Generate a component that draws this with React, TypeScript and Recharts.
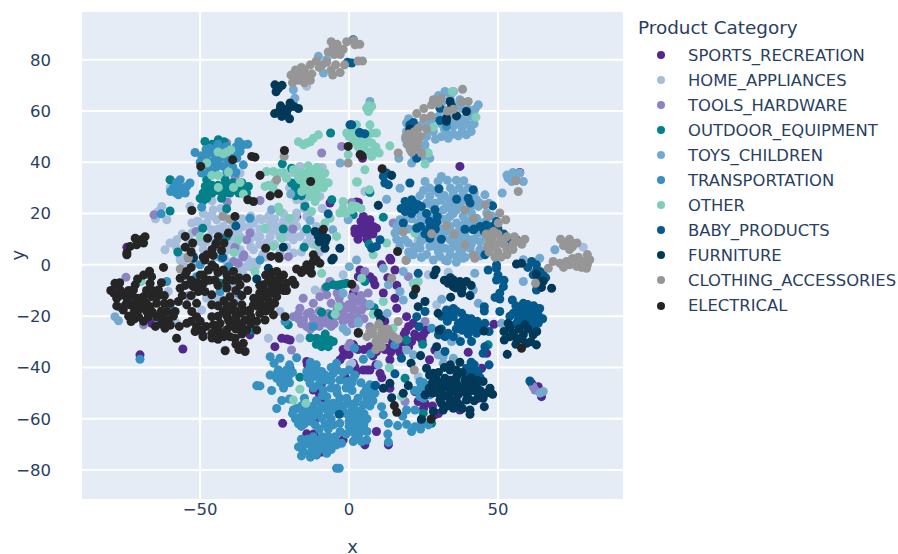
import { ScatterChart, Scatter, XAxis, YAxis, ZAxis, CartesianGrid } from 'recharts'

type Pt = [number, number]

const sports: Pt[] = [
  [5.3, 16.3], [7, 17.6], [3.7, 14.3], [5.9, 13.7], [8.1, 15], [3.1, 11.7], [5.9, 11.7], [2, 12.4], [9.2, 14.3], [4.8, 18.9], [6.5, 15], [4.5, 12.5], [7.5, 13],
  [37.2, 38.4], [3.1, 24.3], [57.3, 36], [13.7, 2.6], [4.5, 41.6], [4.8, -2.6], [8.1, -5.9], [7, -4.6], [14, 1.9], [10.9, 0], [15.4, -2], [11.5, -11], [15.4, -13],
  [16, -16.9], [19.3, -20.2], [21.5, -22.8], [23.2, -28], [26, -25.4], [21, -29.9], [16.5, -32.5], [12.6, -32.5], [9.2, -33.8], [7, -31.9], [13.7, -37], [4.8, -41],
  [7, -41], [10.4, -42.3], [1.4, -31.2], [1.4, -38.4], [40, -34.1], [22.1, -49.4], [23.2, -53.3], [25.5, -54], [13.7, -48.1], [9.2, -65], [13.2, -70.2], [5.3, -70.2],
  [37.2, -56.6], [43.4, -52], [44.5, -40.3], [48.6, -23.2], [61.3, -46.2], [63.5, -47.5], [64.6, -51.4], [24.3, -60.5], [28.8, -58.5], [28.8, -33.2], [46.2, -34.5],
  [3.7, -2], [8.7, -7.8], [1.4, -11], [-20.9, -28.9], [-22.6, -28.6], [-19.8, -29.3], [-24.9, -31.9], [-14.2, -37.7], [-1.9, -35.4], [1.4, -39], [1.4, -31.2],
  [-55.8, -32.8], [-70.2, -35.1], [-22.3, -61.8], [-14.2, -65.9], [-10.9, -74.1], [-11.4, -67], [-9.2, -46.2], [-12, -48.8], [-9.8, -51.4], [-1.4, -43.6], [2.5, -41.6],
  [-2, -68.3], [-10.9, -59.8], [3.1, -4.6], [-79.1, -9.8], [-66.3, -22.8], [-49.1, -27.3], [-29.3, -11.1], [-33.3, -27.3], [-6.4, 24.1], [2.5, 24.5], [-17.6, 18.9],
  [-74.6, 6.9], [2, 13.7], [18.5, -27], [20, -32], [24.5, -29.5], [14.5, -30], [8, -35.5], [12, -22], [16, -8], [13, -5],
  [15, -30], [18, -30], [22, -27], [25, -27], [20, -24], [10, -32], [6, -41], [9, -39], [12, -33], [14, -34], [17, -34], [19, -26], [3, 10], [6, 10], [8, 12], [4, 17], [2, 14],
  [-3, -37], [-2, -33], [0, -35], [27, -37], [5, -33], [3, -33], [-14, -39], [-10, -50], [-8, -53], [-12, -66], [-9, -73], [2, -40], [11, -44], [12, -28], [25, -56], [28, -55], [30, -58],
]

const homeAppliances: Pt[] = [
  [-62.9, 22.8], [-64, 20.8], [-61.2, 17.6], [-65, 18], [-52.8, 16.3], [-50.6, 16.9], [-47.8, 16.3], [-45.6, 21.5], [-44.4, 17.6], [-47.2, 18.9], [-42.2, 15], [-38.8, 16.3],
  [-35.5, 15], [-32.1, 16.3], [-29.3, 17.6], [-26.5, 16.3], [-24.3, 15], [-20.9, 11], [-17.6, 15], [-18.7, 9.8], [-23.2, 11], [-26.5, 11], [-29.9, 11], [-33.3, 9.8], [-36.6, 11],
  [-40, 9.8], [-43.3, 12.4], [-46.1, 13.7], [-50, 13.7], [-52.8, 12.4], [-14.2, 18.9], [-17.6, 20.2], [-14.2, 8.5], [-16.5, 11], [-60.1, 8.5], [-61.8, 5.9], [-57.8, 9.8],
  [-56.7, 3.3], [-36.6, 5.9], [-32.1, 5.9], [-27.7, 8.5], [-40.5, 5.9], [-18.7, 4.6], [-23.2, 4.6], [-14.2, 69.6], [-12, 35.1], [-16.5, 38.4], [-14.2, 26.7], [-17.6, 25.4],
  [-9.8, 26.7], [-60.1, 30], [-36.6, 35.8], [-53.4, 22.8], [-56.7, 1.9], [-55.6, 0], [-46.1, -5.9], [-43.3, -11.7], [-47.8, -13], [-49.5, -17.6], [-36.6, -1.3], [-33.3, -0.7],
  [-35.5, -3.9], [-60.7, -10.4], [-57.9, -22.8], [-27.1, -28.6], [-23.2, -18.2], [-16.5, -28.6], [-11.4, -9.8], [-9.8, -11], [-2, -3.9], [0.3, -39], [-41.6, -33.2], [0.9, -38.4],
  [4.2, -13.7], [26.6, -3.9], [33.3, -2.9], [23.2, -43.6], [29.4, -15.6], [42.2, -39], [23.2, 9.5], [15.4, 16.3], [78.6, 6.9], [31, 25.1], [5.3, 28.6], [-42, 20], [-38, 12],
  [-44, 7], [-30, 14], [-21, 14], [-10, 5], [-34, 2], [-28, 3], [-48, 9], [-53, 7], [-41, 1],
  [-56, 12], [-49, 20], [-46, 25], [-43, 22], [-46, 19], [-44, 14], [-41, 18], [-37, 14], [-33, 13], [-31, 11], [-28, 14], [-26, 14], [-22, 17], [-19, 12], [-15, 13], [-13, 11],
  [-18, 18], [-15, 22], [-47, 11], [-50, 9], [-54, 10], [-38, 8], [-36, 3], [-33, 7], [-30, 8], [-25, 8], [-21, 7], [-16, 5], [-12, 8], [-45, 3], [-52, 1], [-58, 7], [-51, 17],
  [-39, -8], [-44, -14], [-37, -13], [-31, 0], [-35, -1], [-29, 4], [-42, 3], [-17, 34], [-11, 30], [-9, 38], [-19, 36], [-15, 24], [-9, 22], [-20, 30],
  [-36, 18], [-33, 19], [-25, 18], [-22, 20], [-30, 18], [-40, 14], [-33, 16], [-24, 13], [-27, 19], [-20, 16], [-11, 15], [-49, 6], [-32, 1], [-41, 7],
]

const toolsHardware: Pt[] = [
  [-18.7, -20.2], [-15.3, -21.5], [-14.2, -24.1], [-12, -20.8], [-9.8, -21.5], [-7.5, -22.8], [-5.3, -20.8], [-2, -18.2], [-0.3, -15.6], [2, -17.6], [0.3, -20.2], [3.1, -14.3],
  [-16.5, -16.9], [-15.4, -13], [-9.8, -12.4], [-7.5, -11.7], [-6.4, -6.5], [-3.3, -13], [-19.3, -33.2], [-74.9, -4.8], [-69, -23.4], [-54, -12.1], [-35.5, 3.2], [-38.8, 1.3],
  [-37.2, 0.6], [-20.4, 3.2], [-6.4, -44.9], [0.3, -30.6], [-0.3, -31.9], [0.9, -15], [1.4, -17.6], [4.2, -17.6], [0.9, -20.8], [3.1, -20.8], [6.4, -11], [2, -9.1], [5.3, -2.6],
  [25.5, -22.1], [18.8, -53.3], [19.9, -4.6], [62.4, -48.8], [61.8, -47.5], [7, -24.1], [-41.1, 47.5], [-9.2, 43.6], [-2.5, 46.2], [-65.5, 19.5], [-40.9, 24.5], [-33.3, 12.4],
  [-34.4, 9.8], [-51.4, 13], [-18.9, 14], [-29.9, 25.1], [-38.3, 34.5], [-35.3, 3.9], [-38.3, 6.9], [-45, 36.4], [16.9, 9.1], [14.8, 16.3], [0.9, 24.3], [3.7, 47.5],
  [-13, -18.5], [-10, -18], [-7, -19], [-4, -17], [-1, -21], [-12.5, -23.5], [-17, -19], [-6, -15], [-3, -15.5], [1, -12.5],
  [-17, -21], [-14, -19], [-11, -22.5], [-8, -21], [-5, -23], [-3, -20], [-1, -17], [1, -15], [3, -18], [5, -15], [-16, -23], [-10, -24], [-6, -24], [-2, -22], [1, -23], [-4, -11],
  [-8, -9], [-12, -15], [4, -12], [6, -16], [2, -22], [5, -21], [-13, -25],
]

const outdoorEquipment: Pt[] = [
  [-47.8, 33.2], [-48.3, 30.6], [-47.2, 28.6], [-50, 26], [-47.8, 26], [-41.6, 33.2], [-42.2, 30.6], [-40.5, 30.6], [-38.3, 29.3], [-33.8, 30.6], [-34.4, 28], [-42.8, 26], [-41.1, 21.9],
  [-43.9, 48.8], [-43.9, 46.2], [-48.4, 48.1], [-60.1, 33.2], [-60.1, 21], [-17, 28.6], [-19.3, 31.9], [-16.5, 32], [-22.4, 39.4], [-19.3, 37.7], [-5.8, 25.4], [-6.2, 51.4], [-14.8, 22.8],
  [-18.7, 62.4], [-22.1, 14], [-14.2, 14], [-49.1, 14.3], [-57.5, 5], [-15.1, 6.9], [-41.1, 11], [11.5, 18.6], [7, 28.2], [6.7, 8.1], [1.4, 19.5], [-76.9, -16.5], [-5.3, -7.8], [-3.1, -7.8],
  [-0.8, -7.2], [-7.5, -8.5], [-9.2, -18.5], [-5.8, -19.5], [-13.1, -28.4], [-10.9, -28.6], [-8.6, -30.6], [-6.4, -29.3], [-5.3, -29.9], [-7, -31.9], [-9.2, -31.9], [-20.4, -23.4],
  [-16.5, -43.8], [-19.8, -40.3], [-43.3, -7.2], [-32.7, -25.4], [5.3, -6.5], [19.3, -29.3], [24.7, -31], [18.8, -44.2], [24.9, -57.9], [27.7, -61.8], [8.4, -16.7], [46.7, -31.2],
  [-46, 31], [-49, 28], [-44, 29], [-39, 32], [-36, 30], [-47, 31], [-46, 28], [-49, 25], [-44, 31], [-42, 28], [-40, 28], [-37, 31], [-35, 29], [-37, 28], [-18, 30], [-18, 27], [-16, 27],
  [-46, 47], [-42, 48], [-36, 32], [-9, -29], [-8, -27], [-11, -31], [-4, -8], [-2, -7.5],
]

const toysChildren: Pt[] = [
  [19.3, 55.3], [24.3, 54.6], [28.3, 52], [31, 50], [33.3, 49.4], [36.7, 50.3], [39.4, 50.7], [37.8, 54], [40, 54.6], [35, 54], [36.1, 56], [31.6, 60.5], [29.4, 63.7], [32.2, 67.6], [35, 67.6],
  [30, 57.9], [37.2, 64.4], [40, 60.5], [43.4, 62.4], [42.3, 60.7], [33.9, 60.5], [27.1, 55.3], [19.3, 52], [21.5, 54.6], [25.5, 46.8], [23.2, 44.9], [27.1, 41.6], [21, 39.7], [16.7, 41.6],
  [55.1, 34.5], [53.4, 33.8], [56.2, 35.1], [58.5, 32.5], [57.3, 35.8], [54.6, 32.5], [51.4, 28], [33.9, 18.9], [36.1, 21.5], [38.3, 18.9], [31.6, 21.5], [30.5, 17.6], [33.9, 15], [36.1, 16.3],
  [38.9, 16.3], [41.1, 20.2], [43.4, 22.8], [45.6, 27.3], [42.8, 25.4], [38.3, 28], [38.5, 32.8], [33.9, 25.4], [31, 34.5], [29.9, 32.5], [25.5, 32.5], [23.8, 26.9], [27.1, 26.7], [31, 25.4],
  [27.7, 23.4], [32.7, 22.8], [37.2, 23.4], [17.1, 29.9], [12.6, 25.6], [31.6, 11.1], [33.9, 9.8], [36.1, 11], [38.3, 11], [40.6, 9.8], [43.4, 12.4], [44.5, 16.3], [42.8, 18.2], [28.8, 7.2],
  [32.2, 6.5], [36.1, 7.2], [40.6, 6.5], [28.8, 15], [25.5, 17.6], [23.2, 16.3], [19.3, 18.2], [17.1, 17.6], [15.4, 12.4], [18.7, 9.8], [23.8, 6.5], [19.9, 8.5], [27.1, 7.2], [30.5, 3.3],
  [33.9, 3.9], [37.2, 4.6], [24.3, 3], [19.3, 2], [21.5, 4.6], [43.9, 5.9], [58.5, 2], [64, 2.6], [69.1, 5.9], [46.2, 20.2], [58.5, -6.5], [42.2, -3.3], [31.6, -35.8], [29.9, -35.1], [31.6, -38.4],
  [35, -36.4], [36.1, -28.6], [34.4, -29.9], [51.2, -22.8], [41.7, -9.8], [43.4, -15], [31.1, -13.4], [65.2, -49.4], [64.1, -50], [2.5, 1.9], [28.3, 1.9], [32.2, 1.9], [36.1, 3.2], [38.3, 2.6],
  [24.3, 2.9], [21.5, 3.9], [11.5, -1.3], [18.2, -2.6], [13.2, -7.8], [17.1, -10.4], [18.2, -13.7], [12.8, -18.9], [7, -15.4], [3.1, -22.8], [19.3, -33.2], [21.6, -35.1], [9.8, -39],
  [-78.6, -20.2], [-77.4, -21.8], [-2, -24.7], [-0.8, -26], [-2, -11.1], [3.1, -22.1], [0.1, -0.7], [-18.2, 65], [-18.7, 68.3], [-7.5, 80], [-8.6, 74.8], [-10.3, 81.3], [-3, 39.7],
  [-19.6, 27.6], [-26, 21.5], [-0.3, 17.6], [-13.1, 17.3], [-5.5, 13.7], [7, 63.7], [35, 20], [34, 13], [31, 14], [28, 19], [40, 14], [36, 26], [35, 8], [38, 6], [30, 9], [41, 23], [34, 30],
  [26, 20], [27, 13], [29, 12], [32, 13], [37, 13.5], [39, 11], [42, 10], [44, 9], [46, 11], [33, 18], [35, 23], [38, 25], [40, 17], [42, 15], [29, 24], [32, 27], [35, 28], [37, 30], [44, 24],
  [40, 30], [28, 10], [31, 7], [34, 6], [37, 9], [41, 8], [44, 3.5], [33, 1.5], [25, 10], [22, 7], [20, 5], [17, 7], [16, 15], [21, 18], [23, 12], [20, 14], [18, 13], [46, 17], [48, 19], [25, 29],
  [26, 24], [24, 19], [30, 5], [26, 4], [39, 3], [22, 52], [24, 50], [26, 50], [29, 49], [32, 53], [33, 51], [35, 51], [38, 52], [41, 52], [42, 55], [38, 57], [35, 57], [41, 58], [39, 56], [31, 55],
  [28, 57], [33, 58], [31, 63], [34, 66], [30, 66], [38, 61], [23, 47], [25, 42], [20, 57], [22, 42], [26, 44], [19, 49], [36, 62], [34, 64], [56, 33], [55, 36], [53, 35],
  [24, 22], [30, 28], [33, 33], [36, 33], [42, 28], [47, 24], [22, 14], [16, 10], [24, 9], [46, 14], [36, 1], [29, 29], [27, 30], [34, 22], [38, 14], [31, 18],
]

const transportation: Pt[] = [
  [-22.1, -43], [-23.7, -41], [-20.4, -43.6], [-24.3, -44.2], [-22.1, -45.5], [-26.5, -43], [-29.9, -47.2], [-31, -47.1], [-26, -49], [-22.6, -52.9], [-20, -52.3], [-24.3, -56], [-23.2, -36.4],
  [-26.5, -35.8], [-17.6, -36.2], [-25.2, -38.4], [-13.1, -39.7], [-10.9, -41], [-12, -43.6], [-14.2, -41.6], [-9.2, -41.6], [-13.1, -46.2], [-10.3, -46.8], [-8.6, -48.8], [-4.2, -38.4],
  [-5.3, -42.3], [-3.1, -44.9], [-0.8, -45.5], [2, -43], [-4.2, -48.1], [-17.6, -56], [-15.4, -57.2], [-13.1, -56], [-18.7, -56.6], [-17, -59.8], [-14.2, -59.8], [-11.4, -57.9], [-11.4, -62.4],
  [-9.2, -59.8], [-7, -58.5], [-5.3, -54], [-3.1, -52], [-0.8, -52], [-7.5, -51.4], [-5.3, -56.6], [-2, -57.2], [0.3, -59.8], [2, -54], [3.1, -57.2], [2.5, -62.4], [3.1, -66.3], [-3.1, -61.8],
  [-5.3, -62.4], [-15.4, -70.2], [-13.1, -70.2], [-15.4, -72.8], [-13.1, -73.5], [-10.9, -68.9], [-9.2, -70.9], [-7, -67], [-4.7, -67], [-7.5, -73.5], [-4.2, -70.2], [-2.5, -69.6], [-4.2, -79.3],
  [-3.3, -79.3], [-70.2, -36.8], [2.5, -61.1], [4.8, -63.1], [3.1, -66.3], [1.4, -58.5], [5.9, -68.3], [4.2, -68.9], [1.4, -68.9], [3.7, -57.2], [7, -50.7], [5.9, -48.1], [8.7, -50], [7, -46.8],
  [4.8, -54.6], [1.4, -44.2], [10.9, -55.3], [11.5, -58.5], [13.2, -61.8], [16.3, -62.7], [19.3, -62.2], [22.1, -63.1], [24.3, -61.8], [26.6, -62.4], [19.3, -56.6], [22.1, -56.6], [13.2, -69.2],
  [23.8, -45.5], [25.5, -48.1], [27.1, -50.7], [23.8, -51.4], [15.4, -31.2], [7.3, -34.7], [1.8, -32.5], [4.8, -36.8], [27.7, -24.7], [-45.6, 43.6], [-47.8, 41], [-43.9, 42.3], [-42.2, 44.9],
  [-41.1, 41.6], [-44.4, 38.4], [-49.5, 35.8], [-47.2, 38.4], [-42.2, 38.4], [-51.7, 43.8], [-49.5, 42.5], [-46.7, 45.5], [-35.5, 46.8], [-36.6, 44.2], [-37.7, 41.6], [-35.5, 39], [-41.1, 46.2],
  [-57.9, 30.6], [-56.7, 33.2], [-59, 30], [-57.3, 27.3], [-54.5, 30.6], [-53.4, 31.9], [-59.9, 28.6], [-63.1, 19.9], [-33.3, 18.2], [-49.5, 22.5], [-61.2, -6.5], [-51.2, -4.6], [-50, 0],
  [-37.2, -11], [-43.3, -10.4], [-67.9, -16.3], [-72.4, -18.9], [-64, -22.8], [-60.1, -16.3], [-42.8, 2.6], [-29.9, 1.9], [-40.5, -0.7], [-21.5, -22.1], [-12, -24.1], [32.7, 54],
  [-45, 41], [-39, 43], [-46, 36], [-44, 45], [-16, -59], [-12, -59], [-15, -54], [-8, -56], [-2, -55], [1, -56], [0, -63], [4, -60], [-12, -71.5], [-10, -72], [-6, -70], [6, -65], [-22, -48], [-10, -44],
  [-24, -42], [-21, -41], [-19, -42], [-23, -46], [-20, -46], [-14, -44], [-12, -41], [-10, -44], [-11, -39], [-13, -38], [-8, -45], [-12, -48], [-6, -40], [-4, -41], [-2, -42], [0, -41], [-6, -45],
  [-1, -48], [1, -46], [4, -46], [-19, -58], [-16, -55], [-14, -57], [-12, -55], [-10, -57], [-17, -62], [-15, -62], [-13, -61], [-9, -55], [-7, -54], [-6, -60], [-8, -62], [-3, -55], [-1, -58], [2, -59],
  [0, -61], [1, -65], [3, -64], [5, -62], [4, -65], [2, -68], [6, -60], [5, -58], [7, -55], [8, -53], [6, -52], [3, -52], [5, -50], [9, -47], [0, -54], [-3, -58], [-4, -50], [-9, -51],
  [-17, -71], [-16, -68], [-14, -68], [-12, -67], [-11, -71], [-13, -75], [-11, -74], [-8, -69], [-6, -72], [-5, -68], [-9, -67], [-7, -71], [-16, -74.5], [13, -66], [18, -59], [21, -65], [24, -64],
  [25, -46], [27, -47], [24, -48], [25, -52], [22, -49], [-48, 43], [-46, 40], [-44, 40], [-42, 42], [-40, 40], [-47, 36], [-45, 35.5], [-41, 36], [-44, 47], [-48, 45], [-38, 46], [-37, 48], [-34, 47],
  [-39, 38], [-38, 36], [-50, 40], [-58, 32], [-56, 30], [-55, 28], [-58, 28],
  [-20, -39], [-8, -43], [-15, -52], [-7, -64], [-3, -65], [-1, -66], [8, -50], [1, -49], [-6, -48], [-11, -53], [-18, -60], [-16, -63], [-10, -64],
]

const other: Pt[] = [
  [7, 61.1], [5.9, 61.1], [7.6, 61.8], [6.5, 59.8], [7, 54.6], [7.6, 51.4], [5.3, 48.8], [7.6, 47.5], [2.5, 50.7], [1.4, 48.1], [9.2, 51.4], [13.7, 46.4], [10.1, 43.6], [7.6, 42.3], [5.3, 37.1],
  [2.8, 32.3], [6.8, 29.3], [0.9, 51.4], [3.1, 47.5], [25.5, 39.3], [28.3, 53.7], [34.7, 67.6], [42.6, 57.6], [26.6, 43.6], [22.1, 12.4], [12.6, 8.5], [8.1, 3.9], [-14.2, 47.5], [-12, 49.4],
  [-10.3, 50.7], [-15.3, 46.8], [-0.8, 51.4], [2.5, 54.6], [3.1, 48.8], [-0.3, 43], [2.5, 32.3], [-16.5, 33.2], [-14.2, 30.6], [-12, 33.2], [-14.2, 35.8], [-13.1, 26.7], [-10.9, 29.3],
  [-8.1, 35.8], [-8.6, 30], [-10.7, 38.1], [-13.7, 38.6], [-17, 34.5], [-15.9, 28.6], [-11.4, 24.7], [-12.6, 20.8], [-23.2, 35.8], [-21, 33.8], [-27.7, 36.4], [-25.4, 36.4], [-28.2, 30.6],
  [-25.4, 29.3], [-23.7, 22.5], [-23.2, 20.8], [-20, 18.2], [-18.7, 37.1], [-36.6, 32.1], [-38.8, 30.2], [-43.9, 30.2], [-46.1, 34.9], [-43.9, 34.9], [-40.5, 36.2], [-47.8, 39.7], [-42.2, 43.3],
  [-39.7, 44.9], [-35.5, 27.6], [-2, 24.7], [2.5, 22.8], [0.9, 21.5], [-3.1, 20.2], [-8.1, 16.3], [-6.4, 18.2], [-10.9, 7.8], [-4.2, 11.1], [-28.2, 14.3], [-22.6, 10.4], [-37.2, 9.8], [-50, 11.1],
  [-38.6, 4.8], [-25.4, 7.2], [-69.8, -6.5], [-31.6, -2.6], [-9.2, -3.3], [-3.6, -16.3], [-4.7, -19.3], [-16.5, -48.5], [-18.7, -52.7], [-14.5, -54], [21.5, -7.2], [23.2, -6.5], [4.2, -5.2],
  [14.8, -24.7], [13.5, -40.1], [11.5, -14.3], [8.1, -19.3], [17.6, -51.4], [-11, 31], [-13, 28.5], [-15, 33], [-12, 36], [-9, 33], [4, 44], [6, 50], [3, 52], [5, 46], [-17, 48],
  [-13, 32], [-11, 34], [-9, 36], [-15, 31], [-11, 27], [-13, 37], [-16, 36], [-10, 31], [-7, 32], [4, 50], [6, 48], [3, 46], [0, 50], [1, 52], [8, 44], [9, 46], [7, 44], [2, 49],
  [-13, 48], [6.5, 62], [-44, 44], [-41, 44], [-2, 22], [-1, 20], [1, 23], [4, 22], [-25, 32], [-27, 31], [-22, 36],
]

const babyProducts: Pt[] = [
  [18.8, 24.7], [21, 25.4], [23.2, 23.4], [19.9, 22.8], [22.1, 21.5], [18.8, 20.8], [24.3, 22.8], [28.8, 21.5], [29.6, 18.9], [27.1, 15], [29.4, 16.7], [22.7, 14.3], [18.2, 16.3], [25.5, 12.1],
  [27.1, 10.4], [31, 10], [38.9, 13.9], [41.7, 13.7], [45.4, 13], [36.1, 25.6], [40, 26], [40.6, 24.1], [41.7, 29.3], [30.2, 29.7], [48.2, 23], [49.5, 16.9], [20.4, 31.9], [12, 31.9], [12.6, 35.8],
  [11.5, 34.5], [13.2, 31.2], [45.6, 3.9], [46.7, 7.2], [56.2, 9.8], [30.5, 61.1], [30.5, 56.3], [21.6, 55.5], [20.4, 54.6], [22.7, 41.6], [3.7, 51.4], [5.3, 51.1], [0.9, 54.6], [0.9, 78.7], [1.4, 87.8],
  [10.4, 9.8], [7.6, 6.5], [9.2, 7.2], [0.3, 54.6], [3.5, 51.6], [-0.5, 79], [-7, 19.9], [-38, 15.2], [32.7, -17.6], [35, -20.2], [37.8, -18.9], [39.4, -20.8], [36.7, -22.8], [39.4, -24.1],
  [42.2, -23.4], [42.8, -26.7], [45.6, -22.8], [33.3, -26.7], [30, -27.3], [32.2, -28], [41.1, -29.9], [37.4, -29.9], [45.6, -31.9], [45, -34.5], [41.7, -41], [39.4, -40.3], [43.4, -41.6],
  [42.3, -44.2], [32.2, -33.8], [57.3, -18.9], [59.6, -17.6], [61.8, -18.2], [63.5, -19.5], [55.1, -18.9], [58.5, -15], [61.3, -20.8], [63.5, -22.8], [58.5, -22.1], [60.7, -23.4], [56.8, -21.5],
  [50.6, -18.2], [49.5, -5.9], [51.8, -8.5], [50.6, -11], [49, -12.7], [50.6, -13.3], [54.8, -13.7], [45.4, -16.3], [45.4, -18], [49.5, 0], [49.5, -1.3], [46.7, -2], [62.9, 0], [64.1, -2.6],
  [61.3, 1.3], [61.8, -3.9], [65.2, -3.9], [62.9, -9.8], [23.2, -3.3], [25.5, -18.2], [22.7, -20.2], [23.5, -24.1], [60.7, -45.3], [17.6, -36.4], [15.4, -42.5], [8.7, -47.1], [-3.3, -58.3],
  [-44.7, 8.5], [-52.3, 3.3], [-42.4, 2.9], [34, -19], [36, -25], [58, -20], [60, -20], [62, -22], [57, -17], [35, -17], [40, -23], [33, -22], [21, 23],
  [20, 24], [22, 24], [17.5, 22], [21, 20], [26, 20], [27, 17], [29, 14], [26, 13], [24, 15], [42, 14], [44, 15], [48, 15], [50, 14], [52, 12], [54, 9], [46, 15.5], [31, -20], [33, -19], [36, -18],
  [38, -22], [41, -21], [44, -24], [41, -25], [38, -25.5], [35, -28], [31, -25], [43, -22], [47, -26], [40, -27], [54, -20], [56, -16], [58, -18], [60, -15.5], [62, -16], [64, -17], [65, -21],
  [63, -17], [60, -21], [62, -24], [56, -23], [40, -42], [42, -39], [44, -44], [41, -38], [47, -39], [52, -6], [50, -4], [63, -2], [60, -1], [64, -6], [66, -5],
]

const furniture: Pt[] = [
  [26, -40.3], [28.3, -42.3], [29.4, -44.9], [32.2, -44.2], [33.9, -41], [36.1, -43.6], [38.9, -44.9], [32.2, -47.5], [35, -46.8], [37.8, -47.5], [40.6, -46.2], [42.8, -47.5], [45, -45.5], [47.3, -48.1],
  [48.2, -50.5], [33.9, -50.1], [36.6, -50.7], [39.4, -50.1], [43.4, -50.7], [45, -52], [30.5, -52.7], [33.9, -52.7], [39.4, -52.7], [37.2, -54.6], [35, -55.9], [31.6, -56.6], [40.6, -56.6], [40.6, -58.3],
  [45.4, -55.3], [28.3, -57.2], [24.3, -60.2], [37.2, -38], [26.9, -48.1], [25.5, -50.7], [18.2, -50.1], [14.3, -51.8], [19.9, -47.1], [13.7, -46.2], [11.5, -48.1], [20.8, -38.4], [24, -35.4],
  [33.3, -7.2], [35, -5.9], [37.2, -6.5], [39.4, -6.5], [35, -8.5], [37.8, -11], [40.6, -12], [34.1, -12.6], [55.1, -26.7], [53.4, -22.8], [52.1, -29.3], [56.2, -28.6], [58.5, -27.3], [61.8, -27.3],
  [59, -23.4], [62.9, -31.2], [59.6, -30.6], [53.1, -34.9], [65.2, -6.3], [68, -9.1], [64.6, -8.8], [62.9, -3.6], [29.2, -2], [28.5, -3.9], [56.2, 0.3], [57.9, 0.6], [23.2, -16.3], [21.6, -11.7],
  [25.5, -14.3], [29.9, -18.9], [30.3, -25.4], [29.4, -31.9], [45.3, -25.8], [9.8, -18.9], [10.6, -21.1], [-24.3, 69.6], [-24.9, 70.2], [-23.7, 68.9], [-22, 60.5], [-20.4, 61.1], [-23.2, 60.5],
  [-18.7, 61.8], [-22.6, 57.9], [-21, 59.2], [-19.8, 63.1], [33.9, 63.7], [34.4, 61.8], [39.4, 59.8], [36.1, 58.1], [32.7, 57.2], [32.7, 56], [20.4, 53], [9.8, 23.2], [14.3, 34.9], [-11.4, 13],
  [-9.2, 11.1], [-7.5, 10.4], [-10.3, 11], [-8.1, 6.5], [-3.1, 6.5], [-22.1, 6.9], [-5.3, 2.6], [-5.8, 1.9], [-27.1, -1.3], [-31, -5.5], [-52.3, 2.6], [34, -45], [36, -49], [31, -48], [41, -49], [30, -42],
  [38, -42], [35, -53], [28, -46], [34, -39], [32, -40], [30, -46], [33, -46], [36, -46], [39, -47], [41, -44], [43, -45], [34, -48], [37, -50], [40, -52], [42, -49], [36, -53], [33, -55], [38, -56],
  [30, -50], [28, -50], [32, -51], [36, -41], [27, -43], [29, -47], [44, -49], [46, -50], [31, -54], [42, -53], [-24.5, 67.5], [-22.5, 70], [-20, 57], [-23, 62], [-25, 59], [-17, 61], [54, -24.5],
  [57, -25], [60, -25], [56, -31], [58, -29], [54, -28], [61, -30], [52, -26], [63, -26], [32, -6], [36, -9], [38, -9], [36, -7], [34, -5], [41, -8], [-10, 9], [-9, 13], [-8, 9],
]

const clothingAccessories: Pt[] = [
  [-5.3, 85.2], [-7, 83], [-4, 86], [-3, 82], [-2, 84], [-5, 82], [-13, 78], [-11, 79.5], [-9, 78], [-7.5, 79], [-6, 76], [-4.5, 78], [-3, 75], [-1.5, 78], [-5.5, 74], [-19.5, 74], [-18, 76], [-16, 77],
  [-17, 72], [-14.5, 73], [-12.5, 74.5], [-19, 71], [-16.5, 74], [-15, 71], [-0.8, 87], [1.5, 87.5], [3.6, 86], [2, 85.8], [3, 79.5], [4.5, 79.5], [21.5, 49], [19.5, 47], [20, 51], [22, 52], [24, 50],
  [23, 46], [20.5, 45], [24.3, 43.6], [16.5, 43.6], [22.7, 59], [25.1, 61], [27.7, 62.4], [28.3, 64.4], [31, 65], [38.1, 68.5], [37.8, 63.7], [40, 63.7], [35, 60.7], [25.1, 57.2], [27.5, 58], [26, 53],
  [23.2, 53.3], [50.6, 8.5], [46.5, 7], [48, 10], [50, 12], [53, 11], [55, 8], [57, 9], [59, 10], [47, 5], [50, 5], [53, 6], [55.5, 11], [48.5, 13], [38.9, 21.5], [41.9, 18], [32.7, 15.2], [35.3, 12],
  [38.9, 7.8], [45.8, 23.4], [46.7, 19.1], [50.6, 20.2], [52.6, 17.6], [50.1, 16.3], [56, 32.8], [56.8, 28.6], [27.7, 12.1], [18.2, 13], [41.7, 3.9], [73.6, 9.1], [71, 10], [72, 7.5], [75, 7], [76.5, 8.5],
  [68.5, 1.3], [73, 1.3], [78.6, 1.3], [80.8, 2], [76.4, -0.6], [79.7, -1.3], [70.8, 0.6], [66.9, -1.3], [75, 2.5], [77, 3], [80, 4], [10.9, -26.7], [8, -25], [6, -28], [9, -30], [12, -29], [13, -25],
  [15, -28], [16.5, -29], [10, -23], [11, -32], [16.5, -22.1], [14.3, -5.2], [19.1, 1.7], [42.2, 2.6], [62.6, -7.2], [21.9, -41], [-21.8, 42.3], [-24.3, 33.2], [-42.4, 18.9], [-40, 17.8], [-0.3, 39.7],
  [-54, 3.3], [-56.7, -1.6], [-54, 2.6], [52, 8], [49, 7], [51, 10], [53, 4], [47, 9], [55, 6], [58, 8], [49, 3], [51, 3], [46, 12], [-17, 74], [-15, 76], [-18, 73], [-13, 72], [-10, 77], [22, 47],
  [21, 44], [19, 50], [23, 48], [8, -27], [10, -29], [12, -27], [14, -27], [11, -25], [9, -33], [7, -26], [74, 6], [74, 10], [73, 8], [72, -1], [74, 0], [78, -1], [80, 0], [77, 1.5], [-4, 84], [-6, 87],
  [30, 63], [33, 60],
]

const electrical: Pt[] = [
  [-78.6, -7.2], [-76.9, -9.8], [-78, -13], [-74.6, -13], [-73.5, -15.6], [-75.8, -17.6], [-71.8, -7.8], [-72.4, -9.8], [-66.3, -4.6], [-66.8, -7.2], [-64, -9.8], [-69, -12.4], [-66.3, -12.4], [-64.6, -15],
  [-66.8, -16.3], [-70.7, -20.2], [-67.4, -20.2], [-64.6, -20.2], [-61.2, -18.2], [-58.4, -18.2], [-60.7, -21.5], [-61.8, -24.7], [-57.3, -14.3], [-73.2, -22.1], [-57.9, -28.6], [-56.7, -5.2], [-54.5, -2.6],
  [-56.7, -9.1], [-52.3, -8.5], [-50.6, -10.4], [-48.4, -10.4], [-46.1, -11.7], [-47.2, -2], [-48.4, 1.9], [-42.2, -2], [-38.8, -2.6], [-41.1, -6.5], [-45, -5.9], [-36.6, -7.8], [-34.4, -5.2], [-54.5, -15.6],
  [-51.2, -15], [-52.8, -18.2], [-51.2, -20.2], [-54.5, -22.8], [-51.2, -24.1], [-51.7, -26], [-49.5, -25.4], [-46.1, -20.2], [-45.6, -23.4], [-46.1, -26.7], [-43.3, -26.7], [-41.1, -25.4], [-43.3, -22.8],
  [-40.5, -21.5], [-42.2, -18.2], [-39.4, -17.6], [-40, -12.4], [-38.8, -15], [-36, -15.6], [-36.6, -18.9], [-37.7, -22.1], [-34.9, -21.5], [-33.3, -17.6], [-34.4, -25.4], [-31, -25.4], [-38.3, -28.6],
  [-35.5, -30.6], [-34.9, -33.8], [-41.6, -33.5], [-32.1, -15.6], [-29.9, -13.7], [-27.7, -12.4], [-28.2, -21.5], [-25.4, -19.5], [-26.5, -16.9], [-24.3, -12.4], [-23.2, -8.5], [-25.4, -5.9], [-23.2, -5.2],
  [-24.3, -2.6], [-21, -7.2], [-18.2, -7.6], [-21.5, -20.2], [-17.6, -1.6], [-14.2, 0], [-12.6, -3.3], [-15.3, -2], [-12, 1.3], [-9.8, 0.6], [-28.8, -7.8], [-27.7, -10.4], [0.9, -7.6], [3.1, -26.7], [-46.1, -15.6],
  [-48.9, -7.2], [-23.7, 3.3], [-62.3, -1], [-74.6, 3.9], [-70, 9.8], [-68.5, 11], [-71.8, 10.4], [-71.3, 7.8], [-73.5, 7.2], [-74.6, 4.6], [-69, 8.5], [-49.8, 38.4], [-39.1, 41], [-32.7, 42.3], [-31.6, 42],
  [-21.7, 44.6], [-29.9, 34.9], [-23.7, 27.7], [-26.5, 26.9], [-34, 25.4], [-32.1, 24.7], [-52.8, 21.2], [-38.3, 18.9], [-0.3, 46.2], [3.7, 43], [-12.9, 32.5], [-55, 11.1], [-55, 6.9], [-52.5, 8.5], [-47.5, 10.4],
  [-43.9, 11], [-40.5, 12.4], [-44.7, 8], [-42, 8.5], [-42.8, 5.6], [-47.8, 3.9], [-45.6, 3.7], [-28, 6.5], [-26.2, 3.3], [-23.5, 2.6], [-8.6, 13.9], [-12, 3.9], [4.4, 42.5], [11.1, 37.5], [16.3, 5.2], [3.1, -26.4],
  [22.4, -9.4], [15.2, -54.9], [16, -57.5], [27.5, -60.2], [57.9, -32.5], [-38, -20], [-40, -24], [-36, -24], [-44, -20], [-41, -16], [-74, -10], [-70, -15], [-71, -13], [-68, -15], [-62, -12], [-63, -18], [-25, -9],
  [-26, -3], [-53, -6], [-50, -4], [-80, -10], [-77, -12], [-75, -11], [-73, -12], [-72, -15], [-70, -17], [-68, -10], [-66, -10], [-64, -12], [-62, -15], [-60, -15], [-68, -18], [-66, -18.5], [-63, -20],
  [-72, -18], [-74, -20], [-69, -22], [-60, -23.5], [-63, -23], [-59, -20], [-77, -7], [-79, -11], [-75, -15.5], [-71, -5.5], [-67, -2.5], [-55, -4], [-55, -8], [-53, -1], [-51, -7], [-49, -4], [-47, -6],
  [-50, -9], [-46, 0], [-44, -3], [-44, -8], [-41, -9], [-39, -6], [-38, -10], [-36, -12], [-34, -10], [-53, -22], [-50, -22], [-48, -24], [-44, -25], [-42, -28], [-46, -28.5], [-40, -28], [-38, -25], [-36, -27],
  [-33, -23], [-31, -22], [-30, -19], [-28, -18], [-31, -16], [-29, -16], [-27, -14], [-25, -15], [-24, -10], [-26, -8], [-27, -6], [-22, -4], [-22, -10], [-24, -7], [-19, -6], [-38, -31], [-37, -33], [-44, -16],
  [-41, -20], [-38, -18], [-35, -18], [-42, -14], [-44, -24], [-30, -11], [-32, -13], [-16, -3], [-14, -2], [-13, -1], [-11, 2], [-49, 3], [-46, 6], [-53, 5],
  [-78, -16], [-72, -21], [-65, -24], [-57, -24], [-49, -28], [-44, -29], [-39, -23], [-33, -20], [-30, -8], [-28, -4], [-26, -11], [-21, -10], [-56, -12], [-53, -12], [-45, -1], [-41, -4], [-37, -5], [-69, -4], [-63, -7],
]

const seriesNames = [
  'SPORTS_RECREATION', 'HOME_APPLIANCES', 'TOOLS_HARDWARE', 'OUTDOOR_EQUIPMENT', 'TOYS_CHILDREN', 'TRANSPORTATION',
  'OTHER', 'BABY_PRODUCTS', 'FURNITURE', 'CLOTHING_ACCESSORIES', 'ELECTRICAL',
]
const seriesColors = ['#54278f', '#a6bddb', '#8c83c2', '#02818a', '#74a9cf', '#3690c0', '#7fcdbb', '#045a8d', '#023858', '#969696', '#252525']
const seriesPoints = [
  sports, homeAppliances, toolsHardware, outdoorEquipment, toysChildren, transportation,
  other, babyProducts, furniture, clothingAccessories, electrical,
]

const xTicks = [-50, 0, 50]
const yTicks = [-80, -60, -40, -20, 0, 20, 40, 60, 80]

const FONT = '"DejaVu Sans", Verdana, sans-serif'
const INK = '#2a3f5f'
const tickStyle = { fontSize: 16.5, fill: INK, fontFamily: FONT }
const fmt = (v: number) => String(v).replace('-', '\u2212')

export default function App() {
  return (
    <div style={{ position: 'absolute', left: 0, top: 0, width: 898, height: 554, fontFamily: FONT, color: INK }}>
      <ScatterChart width={898} height={554} margin={{ top: 11, right: 274, bottom: 0, left: 0 }}>
        <CartesianGrid fill="#e5ecf6" stroke="#ffffff" strokeWidth={2} />
        <XAxis
          type="number"
          dataKey="x"
          domain={[-90, 92.3]}
          ticks={xTicks}
          tickFormatter={fmt}
          tick={tickStyle}
          axisLine={false}
          tickLine={false}
          tickSize={0}
          tickMargin={3}
          height={54}
          allowDataOverflow
          label={{ value: 'x', position: 'insideBottom', offset: 1, dx: 0, fontSize: 18, fill: INK, fontFamily: FONT }}
        />
        <YAxis
          type="number"
          dataKey="y"
          domain={[-91.7, 99]}
          ticks={yTicks}
          tickFormatter={fmt}
          tick={tickStyle}
          axisLine={false}
          tickLine={false}
          tickSize={0}
          tickMargin={30}
          width={81}
          allowDataOverflow
          label={{ value: 'y', angle: -90, position: 'insideLeft', offset: 18, dy: 5, fontSize: 18, fill: INK, fontFamily: FONT }}
        />
        <ZAxis range={[56, 56]} />
        {seriesNames.map((name, i) => (
          <Scatter
            key={name}
            name={name}
            data={seriesPoints[i].map(([x, y]) => ({ x, y }))}
            fill={seriesColors[i]}
            isAnimationActive={false}
          />
        ))}
      </ScatterChart>
      <div style={{ position: 'absolute', left: 638, top: 17, fontSize: 18.4, whiteSpace: 'nowrap' }}>Product Category</div>
      {seriesNames.map((name, i) => (
        <div key={name} style={{ position: 'absolute', left: 657, top: 43 + i * 25.05, height: 24, display: 'flex', alignItems: 'center', whiteSpace: 'nowrap', fontSize: 16.4 }}>
          <span style={{ width: 8, height: 8, borderRadius: 4, background: seriesColors[i], marginRight: 23 }} />
          {name}
        </div>
      ))}
    </div>
  )
}
